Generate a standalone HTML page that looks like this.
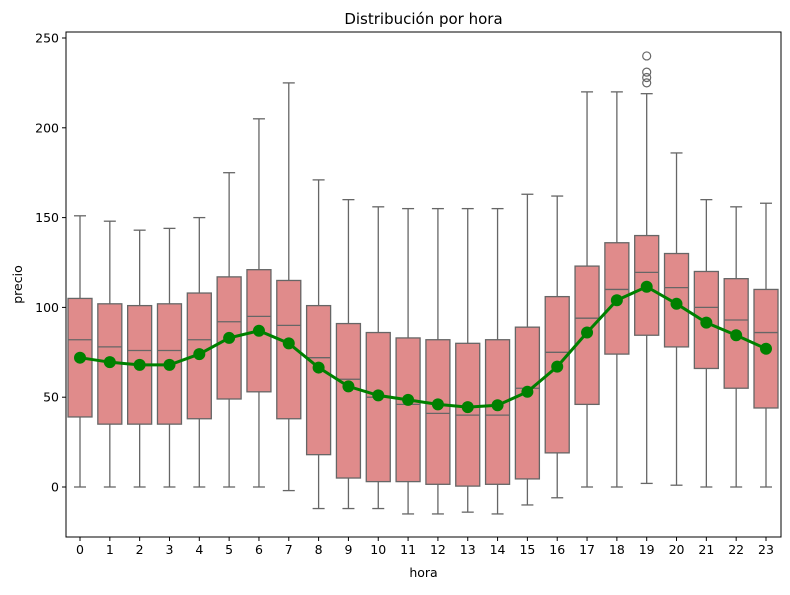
<!DOCTYPE html>
<html><head><meta charset="utf-8"><style>
body{margin:0;background:#fff;}
text{font-family:"DejaVu Sans","Liberation Sans",sans-serif;fill:#000;}
</style></head><body>
<svg id="chart" width="790" height="590" xmlns="http://www.w3.org/2000/svg"></svg>
<script>
const hours=[0,1,2,3,4,5,6,7,8,9,10,11,12,13,14,15,16,17,18,19,20,21,22,23];
const whiskLow=[0,0,0,0,0,0,0,-2,-12,-12,-12,-15,-15,-14,-15,-10,-6,0,0,2,1,0,0,0];
const q1=[39,35,35,35,38,49,53,38,18,5,3,3,1.5,0.5,1.5,4.5,19,46,74,84.5,78,66,55,44];
const medians=[82,78,76,76,82,92,95,90,72,60,50,46,41,40,40,55,75,94,110,119.5,111,100,93,86];
const q3=[105,102,101,102,108,117,121,115,101,91,86,83,82,80,82,89,106,123,136,140,130,120,116,110];
const whiskHigh=[151,148,143,144,150,175,205,225,171,160,156,155,155,155,155,163,162,220,220,219,186,160,156,158];
const means=[72,69.5,68,68,74,83,87,80,66.5,56,51,48.5,46,44.5,45.5,53,67,86,104,111.5,102,91.5,84.5,77];
const outlierHours=[19,19,19,19];
const outlierVals=[225,228,231,240];
const yTicks=[0,50,100,150,200,250];

const NS="http://www.w3.org/2000/svg";
const svg=document.getElementById('chart');
const L=66,R=781,T=32,B=537;
const x=i=>80+i*(766-80)/23;
const y=v=>487-v*1.796;
function mk(t,a,p){const e=document.createElementNS(NS,t);for(const k in a)e.setAttribute(k,a[k]);(p||svg).appendChild(e);return e;}
const bw=24;
hours.forEach((h,i)=>{
  const g=mk('g',{});
  
  
  const cx=x(i);
  mk('line',{x1:cx,x2:cx,y1:y(q3[i]),y2:y(whiskHigh[i]),stroke:'#666','stroke-width':1.3},g);
  mk('line',{x1:cx,x2:cx,y1:y(q1[i]),y2:y(whiskLow[i]),stroke:'#666','stroke-width':1.3},g);
  mk('line',{x1:cx-6,x2:cx+6,y1:y(whiskHigh[i]),y2:y(whiskHigh[i]),stroke:'#666','stroke-width':1.3},g);
  mk('line',{x1:cx-6,x2:cx+6,y1:y(whiskLow[i]),y2:y(whiskLow[i]),stroke:'#666','stroke-width':1.3},g);
  mk('rect',{x:cx-bw/2,y:y(q3[i]),width:bw,height:y(q1[i])-y(q3[i]),fill:'#e08b8b',stroke:'#666','stroke-width':1.3},g);
  mk('line',{x1:cx-bw/2,x2:cx+bw/2,y1:y(medians[i]),y2:y(medians[i]),stroke:'#666','stroke-width':1.3},g);
});
outlierHours.forEach((h,k)=>{
  const c=mk('circle',{cx:x(hours.indexOf(h)),cy:y(outlierVals[k]),r:4,fill:'none',stroke:'#666','stroke-width':1.2});
  
  
});
const pl=mk('polyline',{points:means.map((m,i)=>x(i)+','+y(m)).join(' '),fill:'none',stroke:'#008000','stroke-width':3});


means.forEach((m,i)=>{
  const c=mk('circle',{cx:x(i),cy:y(m),r:6,fill:'#008000'});
  
  
});
const fr=mk('rect',{x:L,y:T,width:R-L,height:B-T,fill:'none',stroke:'#000','stroke-width':1});


yTicks.forEach(v=>{
  mk('line',{x1:L-4,x2:L,y1:y(v),y2:y(v),stroke:'#000'});
  const t=mk('text',{x:L-7,y:y(v)+4.5,'text-anchor':'end','font-size':12.5});
  t.textContent=v;
  
  
});
hours.forEach((h,i)=>{
  mk('line',{x1:x(i),x2:x(i),y1:B,y2:B+4,stroke:'#000'});
  const t=mk('text',{x:x(i),y:B+17,'text-anchor':'middle','font-size':12.5});
  t.textContent=h;
  
  
});
const xt=mk('text',{x:(L+R)/2,y:577,'text-anchor':'middle','font-size':12.5});xt.textContent='hora';


const yt=mk('text',{x:22,y:(T+B)/2,'text-anchor':'middle','font-size':12.5,transform:'rotate(-90 22 '+((T+B)/2)+')'});yt.textContent='precio';


const tt=mk('text',{x:(L+R)/2,y:24,'text-anchor':'middle','font-size':15});tt.textContent='Distribución por hora';


</script>
</body></html>
